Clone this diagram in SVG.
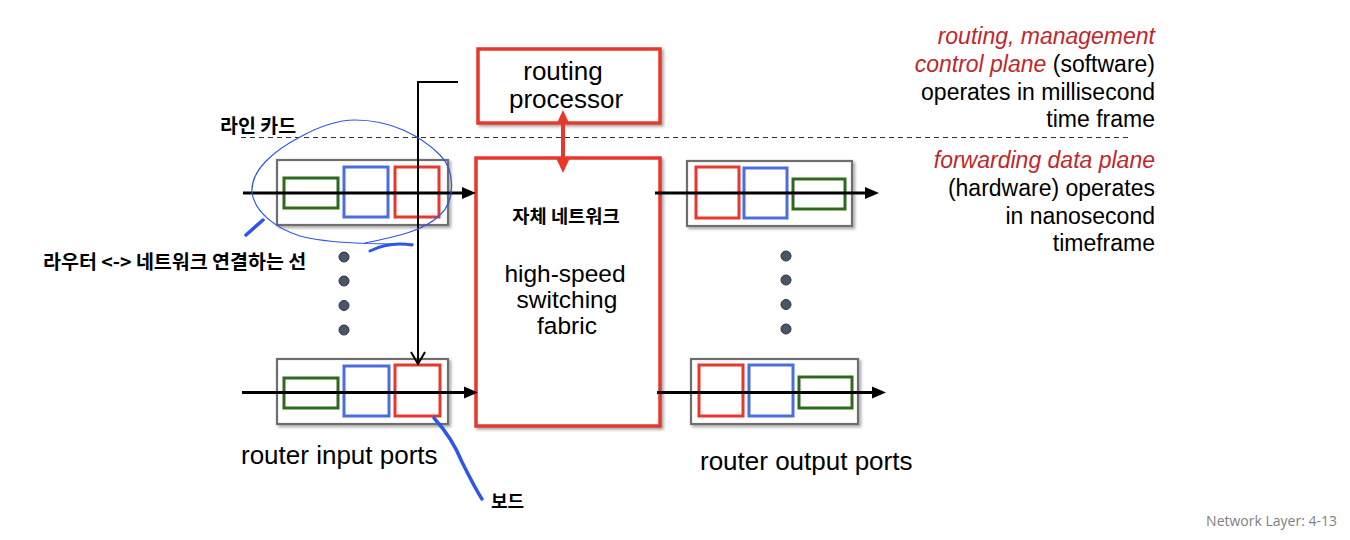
<svg xmlns="http://www.w3.org/2000/svg" width="1350" height="540" viewBox="0 0 1350 540">
<style>
  .lbl { font-family: "Liberation Sans", Arial, sans-serif; fill: #000; }
  .big { font-size: 26px; }
  .fab { font-size: 24.5px; }
  .side { font-size: 23px; text-anchor: end; }
  .red { fill: #c0272d; font-style: italic; }
  .kr { font-family: "Noto Sans CJK KR", sans-serif; font-weight: bold; font-size: 19.5px; fill: #000; }
  .port { fill: #fff; stroke: #6e6e6e; stroke-width: 2.2; filter: url(#sh); }
  .qr { fill: none; stroke: #e8372b; stroke-width: 3; }
  .qb { fill: none; stroke: #4a6fdc; stroke-width: 3; }
  .qg { fill: none; stroke: #2e6a1e; stroke-width: 3; }
  .redbox { fill: #fff; stroke: #e8372b; stroke-width: 3.5; filter: url(#sh); }
  .flow { stroke: #000; stroke-width: 3; fill: none; }
  .head { fill: #000; }
  .dot { fill: #4a5568; stroke: #2b3340; stroke-width: 1; }
  .pen { fill: none; stroke: #2f55ea; stroke-linecap: round; stroke-linejoin: round; }
</style>
<defs>
  <filter id="sh" x="-10%" y="-10%" width="125%" height="130%">
    <feDropShadow dx="2" dy="2" stdDeviation="1.5" flood-color="#000" flood-opacity="0.35"/>
  </filter>
</defs>
<rect width="1350" height="540" fill="#fff"/>

<!-- dashed separator -->
<line x1="241" y1="137.5" x2="1129" y2="137.5" stroke="#333" stroke-width="1" stroke-dasharray="5,4"/>

<g id="routing-processor">
  <rect class="redbox" x="478" y="49" width="182" height="74"/>
  <text class="lbl big" x="563" y="80" text-anchor="middle">routing</text>
  <text class="lbl big" x="566" y="108" text-anchor="middle">processor</text>
</g>

<g id="switching-fabric">
  <rect class="redbox" x="476" y="158" width="184" height="268"/>
  <text class="kr" x="566" y="223" text-anchor="middle" style="font-size:18.7px">자체 네트워크</text>
  <text class="lbl fab" x="565" y="282" text-anchor="middle">high-speed</text>
  <text class="lbl fab" x="567" y="308" text-anchor="middle">switching</text>
  <text class="lbl fab" x="567" y="334" text-anchor="middle">fabric</text>
</g>

<g id="input-port-top">
  <rect class="port" x="277" y="160" width="171" height="65"/>
  <rect class="qg" x="284" y="178" width="54" height="30"/>
  <rect class="qb" x="344" y="167" width="44" height="50"/>
  <rect class="qr" x="395" y="167" width="44" height="50"/>
</g>

<g id="input-port-bottom">
  <rect class="port" x="277" y="359" width="171" height="65"/>
  <rect class="qg" x="284" y="378" width="54" height="30"/>
  <rect class="qb" x="344" y="366" width="45" height="50"/>
  <rect class="qr" x="395" y="365" width="45" height="51"/>
</g>

<g id="output-port-top">
  <rect class="port" x="687" y="161" width="165" height="65"/>
  <rect class="qr" x="696" y="167" width="43" height="51"/>
  <rect class="qb" x="744" y="168" width="43" height="50"/>
  <rect class="qg" x="793" y="179" width="52" height="30"/>
</g>

<g id="output-port-bottom">
  <rect class="port" x="691" y="359" width="167" height="65"/>
  <rect class="qr" x="699" y="365" width="44" height="51"/>
  <rect class="qb" x="749" y="365" width="44" height="51"/>
  <rect class="qg" x="799" y="377" width="53" height="31"/>
</g>

<g id="dots-left">
  <circle class="dot" cx="344" cy="257" r="5"/>
  <circle class="dot" cx="344" cy="281" r="5"/>
  <circle class="dot" cx="344" cy="305.5" r="5"/>
  <circle class="dot" cx="344" cy="330" r="5"/>
</g>
<g id="dots-right">
  <circle class="dot" cx="786" cy="256" r="5"/>
  <circle class="dot" cx="786" cy="280" r="5"/>
  <circle class="dot" cx="786" cy="304.5" r="5"/>
  <circle class="dot" cx="786" cy="329" r="5"/>
</g>

<g id="connectors">
  <!-- input flows -->
  <line class="flow" x1="243" y1="193" x2="464" y2="193"/>
  <polygon class="head" points="476,193 462,187 462,199"/>
  <line class="flow" x1="242" y1="392.5" x2="466" y2="392.5"/>
  <polygon class="head" points="478,392.5 464,386.5 464,398.5"/>
  <!-- output flows -->
  <line class="flow" x1="655" y1="193" x2="868" y2="193"/>
  <polygon class="head" points="879,193 865,187 865,199"/>
  <line class="flow" x1="657" y1="392.5" x2="874" y2="392.5"/>
  <polygon class="head" points="886,392.5 872,386.5 872,398.5"/>
  <!-- control line from routing processor -->
  <path d="M458 82 H418 V363" fill="none" stroke="#000" stroke-width="2"/>
  <path d="M411 352 L418 364 L425 352" fill="none" stroke="#000" stroke-width="2"/>
  <!-- red double arrow -->
  <line x1="563" y1="120" x2="563" y2="162" stroke="#e8372b" stroke-width="4"/>
  <polygon points="563,110 556.5,124 569.5,124" fill="#e8372b"/>
  <polygon points="563,173 556.5,159 569.5,159" fill="#e8372b"/>
</g>

<g id="side-text">
  <text class="lbl side" x="1155" y="44"><tspan class="red">routing, management</tspan></text>
  <text class="lbl side" x="1155" y="72"><tspan class="red">control plane</tspan> (software)</text>
  <text class="lbl side" x="1155" y="100">operates in millisecond</text>
  <text class="lbl side" x="1155" y="127">time frame</text>
  <text class="lbl side" x="1155" y="168"><tspan class="red">forwarding data plane</tspan></text>
  <text class="lbl side" x="1155" y="196">(hardware) operates</text>
  <text class="lbl side" x="1155" y="224">in nanosecond</text>
  <text class="lbl side" x="1155" y="251">timeframe</text>
</g>

<g id="port-labels">
  <text class="lbl big" x="241" y="464">router input ports</text>
  <text class="lbl big" x="700" y="470">router output ports</text>
</g>

<g id="annotations">
  <text class="kr" x="220" y="133">라인 카드</text>
  <text class="kr" x="43" y="269">라우터 &lt;-&gt; 네트워크 연결하는 선</text>
  <text class="kr" x="491" y="508" style="font-size:18px">보드</text>
  <path class="pen" stroke-width="1.2" d="M413 244 C380 244 330 244 300 236 C275 228 255 212 252 193 C250 170 275 150 300 137 C320 126 340 120 355 120 C390 120 420 135 440 155 C455 170 456 200 440 215 C425 230 400 236 365 243"/>
  <path class="pen" stroke-width="3" d="M370 251 C380 246 392 242 412 245"/>
  <path class="pen" stroke-width="3.5" d="M246 235 L263 220"/>
  <path class="pen" stroke-width="3.5" d="M434 418 C445 430 455 445 462 462 C470 478 476 490 482 499"/>
</g>

<text x="1337" y="526" text-anchor="end" font-family="'Open Sans', 'Liberation Sans', sans-serif" font-size="14" fill="#7f7f7f">Network Layer: 4-13</text>
</svg>
